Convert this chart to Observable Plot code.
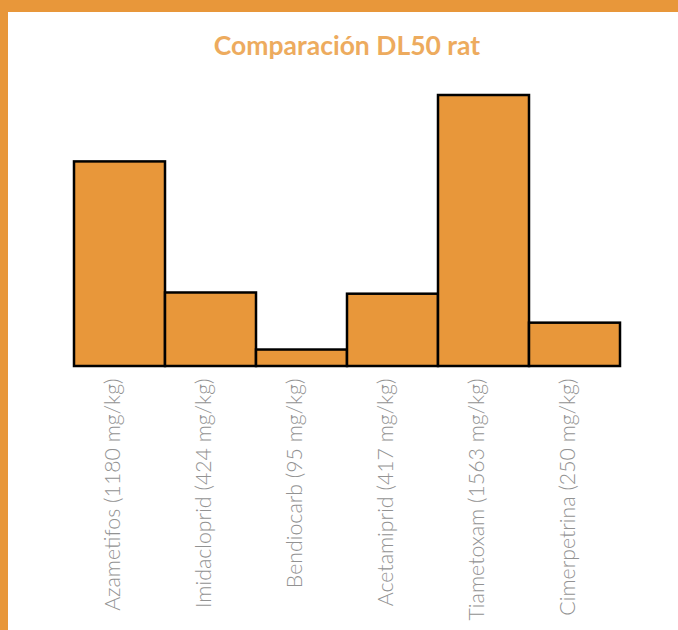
<!DOCTYPE html>
<html>
<head>
<meta charset="utf-8">
<script src="https://cdn.jsdelivr.net/npm/d3@7"></script>
<script src="https://cdn.jsdelivr.net/npm/@observablehq/plot@0.6"></script>
<style>
  html, body { margin: 0; padding: 0; background: #fff; }
  #frame {
    width: 670px; height: 618px;
    border-top: 12px solid #E8973A;
    border-left: 8px solid #E8973A;
    position: relative; overflow: hidden;
  }
  #title {
    height: 54px; padding-top: 4px; line-height: 58px;
    text-align: center; padding-left: 8px;
    font-family: Lato, sans-serif; font-weight: 700; font-size: 26.5px;
    color: #EDAB5E;
  }
  #chart svg { display: block; }
</style>
</head>
<body>
<div id="frame">
  <div id="title">Comparación DL50 rat</div>
  <div id="chart"></div>
</div>
<script>
const compounds = ["Azametifos", "Imidacloprid", "Bendiocarb", "Acetamiprid", "Tiametoxam", "Cimerpetrina"];
const ld50 = [1180, 424, 95, 417, 1563, 250];
const labels = ["Azametifos (1180 mg/kg)", "Imidacloprid (424 mg/kg)", "Bendiocarb (95 mg/kg)", "Acetamiprid (417 mg/kg)", "Tiametoxam (1563 mg/kg)", "Cimerpetrina (250 mg/kg)"];

const data = compounds.map((c, i) => ({name: c, value: ld50[i], label: labels[i]}));

const chart = Plot.plot({
  width: 670,
  height: 560,
  marginLeft: 64,
  marginRight: 56,
  marginTop: 25,
  marginBottom: 264,
  x: {domain: compounds, padding: 0, axis: null},
  y: {domain: [0, 1563], axis: null},
  style: {fontFamily: "Lato, sans-serif", background: "transparent"},
  marks: [
    Plot.barY(data, {x: "name", y: "value", fill: "#E8973A", stroke: "#000", strokeWidth: 2.5}),
    Plot.text(data, {
      x: "name", y: () => 0, text: "label",
      rotate: -90, textAnchor: "end", lineAnchor: "bottom",
      dy: 12, fontSize: 21.3, fontWeight: 300, fill: "#929292"
    })
  ]
});
document.getElementById("chart").appendChild(chart);
</script>
</body>
</html>
